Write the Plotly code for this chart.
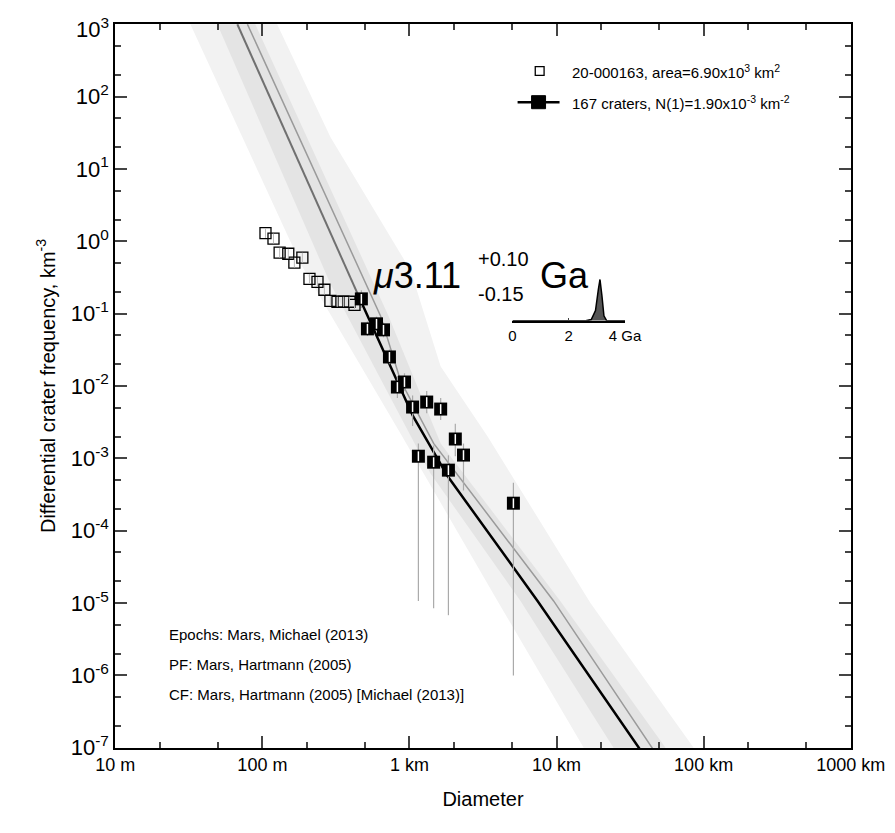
import plotly.graph_objects as go

# open squares (all craters, binned)
open_d = [0.105, 0.119, 0.131, 0.150, 0.165, 0.187, 0.209, 0.237, 0.264, 0.290, 0.324, 0.356, 0.391, 0.423]
open_n = [1.30, 1.09, 0.695, 0.673, 0.506, 0.593, 0.303, 0.275, 0.214, 0.150, 0.146, 0.146, 0.146, 0.132]

# filled squares (fit range) with error bar ends
fit_d = [0.471, 0.518, 0.597, 0.666, 0.731, 0.828, 0.925, 1.05, 1.31, 1.63, 1.15, 1.46, 1.84, 2.05, 2.33, 5.09]
fit_n = [0.160, 0.0616, 0.0723, 0.0597, 0.0252, 0.00968, 0.01135, 0.00512, 0.0060, 0.0048,
         0.00107, 0.000885, 0.000687, 0.00185, 0.00111, 0.00024]
fit_hi = [0.21, 0.078, 0.091, 0.075, 0.032, 0.0137, 0.015, 0.0074, 0.0085, 0.0068,
          0.0016, 0.0015, 0.0011, 0.0030, 0.0016, 0.00046]
fit_lo = [0.12, 0.049, 0.057, 0.047, 0.020, 0.0068, 0.0086, 0.0028, 0.0042, 0.0034,
          1.07e-5, 8.5e-6, 6.8e-6, 0.00107, 0.00036, 1.0e-6]

# isochron 3.11 Ga (black) and neighbouring gray curve
iso_d = [0.0676, 0.450, 1.06, 1.82, 7.43, 37.2]
iso_n = [1000, 0.177, 0.00379, 0.000565, 1.07e-5, 9.3e-8]
gray_d = [0.0791, 0.635, 0.869, 1.46, 9.55, 45.7]
gray_n = [1000, 0.0938, 0.0119, 0.00161, 1.07e-5, 9.3e-8]

# shaded bands
outer_l_d = [0.0324, 0.182, 0.869, 3.97, 15.3]
outer_l_n = [1000, 0.49, 0.00221, 1.07e-5, 1e-7]
outer_r_d = [0.126, 0.290, 1.02, 1.63, 3.40, 17.0, 85.5]
outer_r_n = [1000, 27.6, 0.392, 0.0186, 0.00201, 1e-5, 1e-7]
inner_l_d = [0.0494, 0.290, 1.39, 5.69, 24.4]
inner_l_n = [1000, 0.259, 0.00062, 1.07e-5, 1e-7]
inner_r_d = [0.0895, 0.719, 1.63, 10.6, 55.1]
inner_r_n = [1000, 0.0938, 0.00161, 1.07e-5, 1e-7]

# age probability inset
age_x = [0, 2.6, 2.8, 2.95, 3.05, 3.11, 3.18, 3.25, 3.35, 4]
age_p = [0, 0, 0.03, 0.25, 0.75, 1.0, 0.6, 0.12, 0, 0]

fig = go.Figure()
fig.add_trace(go.Scatter(x=outer_l_d + outer_r_d[::-1], y=outer_l_n + outer_r_n[::-1], fill="toself",
                         fillcolor="#f2f2f2", line=dict(width=0), mode="lines", hoverinfo="skip"))
fig.add_trace(go.Scatter(x=inner_l_d + inner_r_d[::-1], y=inner_l_n + inner_r_n[::-1], fill="toself",
                         fillcolor="#e4e4e4", line=dict(width=0), mode="lines", hoverinfo="skip"))
fig.add_trace(go.Scatter(x=gray_d, y=gray_n, mode="lines", line=dict(color="#9a9a9a", width=1.5)))
fig.add_trace(go.Scatter(x=iso_d[:2], y=iso_n[:2], mode="lines", line=dict(color="#707070", width=2)))
fig.add_trace(go.Scatter(x=iso_d[1:], y=iso_n[1:], mode="lines", line=dict(color="black", width=2.5)))

err_plus = [h - n for h, n in zip(fit_hi, fit_n)]
err_minus = [n - l for l, n in zip(fit_lo, fit_n)]
fig.add_trace(go.Scatter(x=fit_d, y=fit_n, mode="markers",
                         error_y=dict(type="data", array=err_plus, arrayminus=err_minus,
                                      color="#aaaaaa", thickness=1.2, width=0),
                         marker=dict(symbol="square", size=0.1, color="rgba(0,0,0,0)")))
fig.add_trace(go.Scatter(x=open_d, y=open_n, mode="markers",
                         marker=dict(symbol="square-open", size=11, color="black", line=dict(width=1.3))))
fig.add_trace(go.Scatter(x=open_d, y=open_n, mode="markers",
                         marker=dict(symbol="line-ns", size=7, line=dict(color="#bbbbbb", width=1))))
fig.add_trace(go.Scatter(x=fit_d, y=fit_n, mode="markers",
                         marker=dict(symbol="square", size=13, color="black")))
fig.add_trace(go.Scatter(x=fit_d, y=fit_n, mode="markers",
                         marker=dict(symbol="line-ns", size=7, line=dict(color="white", width=1.5))))

fig.add_trace(go.Scatter(x=age_x, y=age_p, mode="lines", line=dict(color="black", width=1.5),
                         fill="tozeroy", fillcolor="#555555", xaxis="x2", yaxis="y2"))

font = "Liberation Sans, Arial, sans-serif"
ytv = [10.0 ** k for k in range(-7, 3)]
ytt = ["10<sup>%d</sup>" % k for k in range(-7, 3)]
xtv = [0.01, 0.1, 1, 10, 100, 1000]
xtt = ["10 m", "100 m", "1 km", "10 km", "100 km", "1000 km"]

fig.update_layout(
    width=895, height=833, showlegend=False,
    plot_bgcolor="white", paper_bgcolor="white",
    margin=dict(l=107, r=52, t=16, b=93),
    font=dict(family=font, color="black"),
    xaxis=dict(type="log", range=[-2.002, 3.002], tickvals=xtv, ticktext=xtt, ticks="inside", ticklen=12,
               tickwidth=1.5, showgrid=False, zeroline=False, showline=True, linecolor="black",
               linewidth=1.5, mirror="ticks", tickfont=dict(size=18),
               minor=dict(ticks="inside", ticklen=6, showgrid=False),
               title=dict(text="Diameter", font=dict(size=20), standoff=18)),
    yaxis=dict(type="log", range=[-7.003, 3.003], tickvals=ytv + [1000.0], ticktext=ytt + [""],
               ticks="inside", ticklen=12,
               tickwidth=1.5, showgrid=False, zeroline=False, showline=True, linecolor="black",
               linewidth=1.5, mirror="ticks", tickfont=dict(size=22),
               minor=dict(ticks="inside", ticklen=6, showgrid=False),
               title=dict(text="Differential crater frequency, km<sup>-3</sup>", font=dict(size=20), standoff=10)),
    xaxis2=dict(domain=[0.540, 0.693], anchor="y2", range=[0, 4], tickvals=[0, 2, 4],
                ticktext=["0", "2", "4 Ga"], ticks="inside", ticklen=3, showgrid=False, zeroline=False,
                showline=True, linecolor="black", linewidth=1.5, tickfont=dict(size=15)),
    yaxis2=dict(domain=[0.590, 0.650], anchor="x2", range=[0, 1.05], visible=False),
)

ann = [
    dict(x=0.348, y=0.652, text="<i>μ</i>3.11", font=dict(size=36), xanchor="left"),
    dict(x=0.491, y=0.676, text="+0.10", font=dict(size=20), xanchor="left"),
    dict(x=0.491, y=0.627, text="-0.15", font=dict(size=20), xanchor="left"),
    dict(x=0.575, y=0.652, text="Ga", font=dict(size=36), xanchor="left"),
    dict(x=0.618, y=0.935, text="20-000163, area=6.90x10<sup>3</sup> km<sup>2</sup>", font=dict(size=15), xanchor="left"),
    dict(x=0.618, y=0.892, text="167 craters, N(1)=1.90x10<sup>-3</sup> km<sup>-2</sup>", font=dict(size=15), xanchor="left"),
    dict(x=0.071, y=0.157, text="Epochs: Mars, Michael (2013)", font=dict(size=15), xanchor="left"),
    dict(x=0.071, y=0.116, text="PF: Mars, Hartmann (2005)", font=dict(size=15), xanchor="left"),
    dict(x=0.071, y=0.074, text="CF: Mars, Hartmann (2005) [Michael (2013)]", font=dict(size=15), xanchor="left"),
]
for a in ann:
    a.update(xref="paper", yref="paper", showarrow=False, yanchor="middle")
# top tick label drawn as annotation so it is not dropped at the edge
ann.append(dict(x=0, xref="paper", y=3, yref="y", text="10<sup>3</sup>", showarrow=False,
                xanchor="right", yanchor="middle", xshift=-4, yshift=-4, font=dict(size=22)))
fig.update_layout(annotations=ann)

fig.add_shape(type="rect", xref="paper", yref="paper", x0=0.571, x1=0.583, y0=0.929, y1=0.941,
              line=dict(color="black", width=1.3), fillcolor="white")
fig.add_shape(type="line", xref="paper", yref="paper", x0=0.547, x1=0.604, y0=0.892, y1=0.892,
              line=dict(color="black", width=2.5))
fig.add_shape(type="rect", xref="paper", yref="paper", x0=0.566, x1=0.585, y0=0.883, y1=0.901,
              line=dict(color="black", width=1), fillcolor="black")

fig.write_html("out.html")
